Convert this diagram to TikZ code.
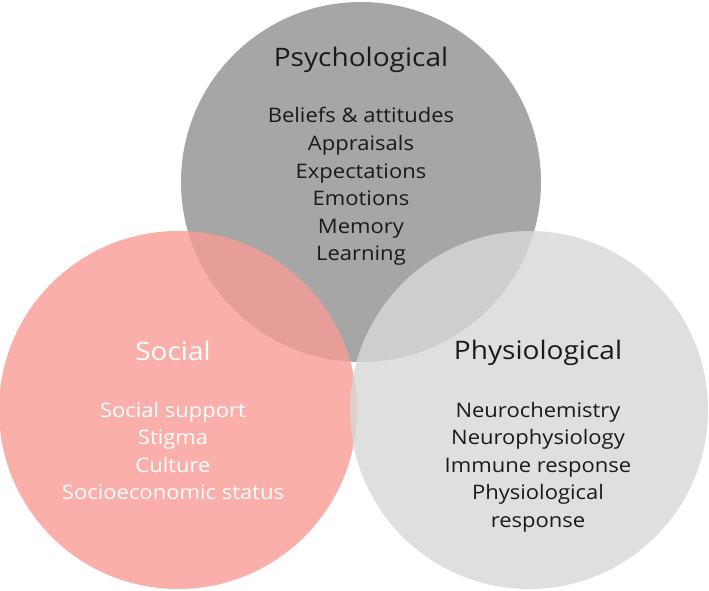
\documentclass[tikz,border=0pt]{standalone}
\usepackage{fontspec}
\setmainfont{Open Sans}[FakeStretch=1.1]
\begin{document}
\begin{tikzpicture}[x=1pt,y=-1pt,
  circ/.style={circle,draw=none,minimum size=#1,inner sep=0pt},
  ttl/.style={font=\fontsize{25.5}{30}\selectfont,anchor=base,inner sep=0pt},
  lst/.style={font=\fontsize{20}{27.6}\selectfont,anchor=base,inner sep=0pt},
]
\useasboundingbox (0,0) rectangle (709,591);
\fill[white] (0,0) rectangle (709,591);
\setlength{\tabcolsep}{0pt}
\definecolor{psy}{HTML}{A6A6A6}
\definecolor{soc}{HTML}{F99C95}
\definecolor{phy}{HTML}{D8D8D8}
\definecolor{ink}{HTML}{1A1A1A}
\node[circ=360pt,fill=psy] (psyc) at (361,182) {};
\node[circ=358pt,fill=soc,fill opacity=0.8] (socc) at (178,410) {};
\node[circ=358pt,fill=phy,fill opacity=0.8] (phyc) at (529,410) {};
\node[ttl,text=ink] (psyt) at (361,67) {Psychological};
\node[lst,text=ink] (psyl) at (361,123) {\begin{tabular}[t]{c}Beliefs \& attitudes\\Appraisals\\Expectations\\Emotions\\Memory\\Learning\end{tabular}};
\node[ttl,text=white] (soct) at (173,360) {Social};
\node[lst,text=white] (socl) at (173,417) {\begin{tabular}[t]{c}Social support\\Stigma\\Culture\\Socioeconomic status\end{tabular}};
\node[ttl,text=ink] (phyt) at (538,359) {Physiological};
\node[lst,text=ink] (phyl) at (538,417) {\begin{tabular}[t]{c}Neurochemistry\\Neurophysiology\\Immune response\\Physiological\\response\end{tabular}};
\end{tikzpicture}
\end{document}
